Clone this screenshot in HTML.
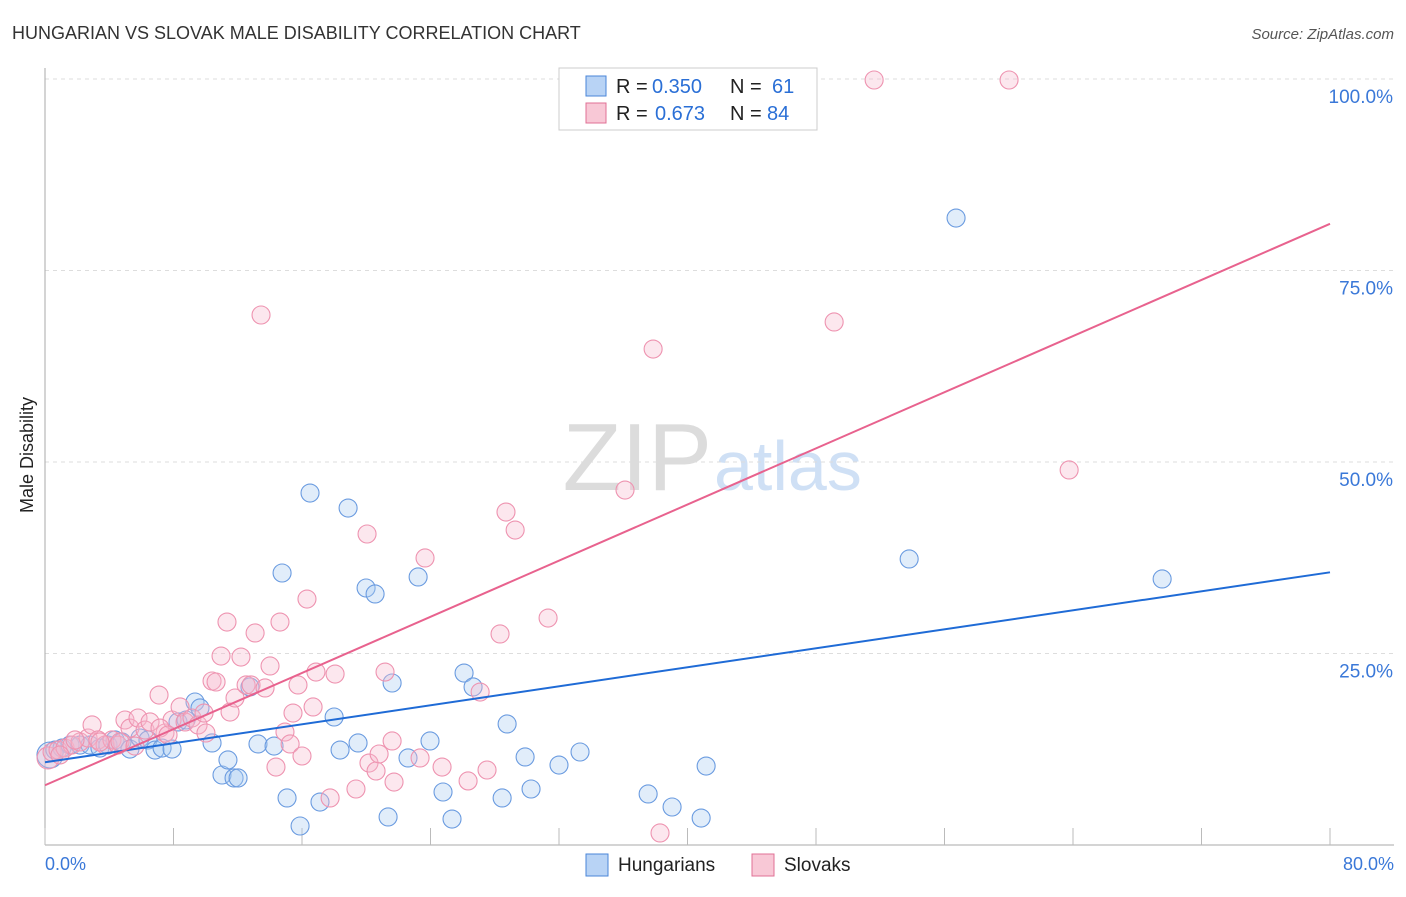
<!DOCTYPE html>
<html><head><meta charset="utf-8"><style>
body{margin:0;background:#fff;font-family:"Liberation Sans",sans-serif}
svg text{font-family:"Liberation Sans",sans-serif}
</style></head><body>
<svg id="c" width="1406" height="892">
<text x="12" y="39" font-size="18" fill="#333">HUNGARIAN VS SLOVAK MALE DISABILITY CORRELATION CHART</text>
<text x="1394" y="39" font-size="15" font-style="italic" fill="#555" text-anchor="end">Source: ZipAtlas.com</text>
<text transform="translate(33,455) rotate(-90)" font-size="18" fill="#222" text-anchor="middle">Male Disability</text>
<text x="712" y="490" font-size="96" fill="#dcdcdc" text-anchor="end" font-family="Liberation Serif">ZIP</text>
<text x="714" y="490" font-size="70" fill="#cfe0f5">atlas</text>
<g id="grid"></g><g id="pts"></g><g id="lines"></g>
<g>
<rect x="559" y="68" width="258" height="62" fill="#fff" stroke="#ccc"/>
<rect x="586" y="76" width="20" height="20" fill="#b8d3f5" stroke="#4a86d8"/>
<text x="616" y="93" font-size="20" fill="#222">R =</text>
<text x="652" y="93" font-size="20" fill="#2a6fd6">0.350</text>
<text x="730" y="93" font-size="20" fill="#222">N =</text>
<text x="772" y="93" font-size="20" fill="#2a6fd6">61</text>
<rect x="586" y="103" width="20" height="20" fill="#f8c8d6" stroke="#e07095"/>
<text x="616" y="120" font-size="20" fill="#222">R =</text>
<text x="655" y="120" font-size="20" fill="#2a6fd6">0.673</text>
<text x="730" y="120" font-size="20" fill="#222">N =</text>
<text x="767" y="120" font-size="20" fill="#2a6fd6">84</text>
</g>
<g>
<rect x="586" y="854" width="22" height="22" fill="#b8d3f5" stroke="#4a86d8"/>
<text x="618" y="871" font-size="19" fill="#222">Hungarians</text>
<rect x="752" y="854" width="22" height="22" fill="#f8c8d6" stroke="#e07095"/>
<text x="784" y="871" font-size="19" fill="#222">Slovaks</text>
</g>
</svg>
<script>
const xTicks=[0,8,16,24,32,40,48,56,64,72,80];
const yTicks=[25,50,75,100];
const bluePx=[[50,755],[55,750],[62,748],[70,745],[80,745],[90,745],[100,748],[108,745],[115,740],[122,742],[130,749],[140,738],[148,740],[155,750],[162,748],[172,749],[178,722],[186,720],[195,702],[200,708],[212,743],[222,775],[228,760],[234,778],[238,778],[250,687],[258,744],[274,746],[282,573],[287,798],[300,826],[310,493],[320,802],[334,717],[340,750],[348,508],[358,743],[366,588],[375,594],[388,817],[392,683],[408,758],[418,577],[430,741],[443,792],[452,819],[464,673],[473,687],[502,798],[507,724],[525,757],[531,789],[559,765],[580,752],[648,794],[672,807],[701,818],[706,766],[909,559],[956,218],[1162,579]];
const pinkPx=[[48,758],[52,752],[58,750],[65,748],[72,745],[80,742],[88,738],[92,725],[98,740],[105,745],[112,740],[118,745],[125,720],[130,728],[138,718],[145,730],[150,722],[159,695],[165,733],[172,720],[180,707],[185,722],[192,718],[198,725],[204,713],[206,733],[212,681],[216,682],[221,656],[227,622],[230,712],[235,698],[241,657],[246,685],[251,685],[255,633],[261,315],[265,688],[270,666],[276,767],[280,622],[285,732],[290,744],[293,713],[298,685],[302,756],[307,599],[313,707],[316,672],[330,798],[335,674],[356,789],[367,534],[369,763],[376,771],[379,754],[385,672],[392,741],[394,782],[420,758],[425,558],[442,767],[468,781],[480,692],[487,770],[500,634],[506,512],[515,530],[548,618],[625,490],[653,349],[660,833],[834,322],[874,80],[1009,80],[1069,470],[60,755],[75,740],[100,742],[120,742],[135,746],[160,728],[168,735]];
const hungarians=bluePx.map(p=>[+((p[0]-45)/16.06).toFixed(2),+((845-p[1])/7.66).toFixed(2)]);
const slovaks=pinkPx.map(p=>[+((p[0]-45)/16.06).toFixed(2),+((845-p[1])/7.66).toFixed(2)]);
const blueTrend=[10.8,35.6];
const pinkTrend=[7.8,81.1];
const X=v=>45+v*(1285/80), Y=v=>845-v*(766/100);
const NS="http://www.w3.org/2000/svg";
function mk(t,a,parent){const e=document.createElementNS(NS,t);for(const k in a)e.setAttribute(k,a[k]);parent.appendChild(e);return e;}
const g=document.getElementById('grid'),pts=document.getElementById('pts'),ln=document.getElementById('lines');
const topLine=mk('line',{x1:45,x2:1394,y1:79,y2:79,stroke:'#ddd','stroke-dasharray':'4,4'},g);


yTicks.forEach(t=>{
 const l=mk('line',{x1:45,x2:1394,y1:Y(t),y2:Y(t),stroke:'#ddd','stroke-dasharray':'4,4'},g);
 
 
 const tx=mk('text',{x:1393,y:Y(t)+24,'font-size':19,fill:'#3a78d8','text-anchor':'end'},g);tx.textContent=t.toFixed(1)+'%';
 
 
});
const ax=mk('line',{x1:45,x2:45,y1:68,y2:845,stroke:'#aaa'},g);


const bx=mk('line',{x1:45,x2:1394,y1:845,y2:845,stroke:'#aaa'},g);


xTicks.forEach(t=>{const l=mk('line',{x1:X(t),x2:X(t),y1:828,y2:845,stroke:'#bbb'},g);
 
 });
[[0,'0.0%','start',45],[80,'80.0%','end',1394]].forEach(a=>{const t=mk('text',{x:a[3],y:870,'font-size':18,fill:'#3a78d8','text-anchor':a[2]},g);t.textContent=a[1];
 
 });
hungarians.forEach((d,i)=>{const c=mk('circle',{cx:X(d[0]),cy:Y(d[1]),r:i==0?13:9,fill:'rgba(170,202,242,0.35)',stroke:'#6a9be0','stroke-width':1.1},pts);
 
 });
slovaks.forEach((d,i)=>{const c=mk('circle',{cx:X(d[0]),cy:Y(d[1]),r:i==0?11:9,fill:'rgba(246,185,205,0.35)',stroke:'#ee93b0','stroke-width':1.1},pts);
 
 });
const bl=mk('line',{x1:X(0),y1:Y(blueTrend[0]),x2:X(80),y2:Y(blueTrend[1]),stroke:'#1f6bd6','stroke-width':2},ln);


const pl=mk('line',{x1:X(0),y1:Y(pinkTrend[0]),x2:X(80),y2:Y(pinkTrend[1]),stroke:'#e8628e','stroke-width':2},ln);


</script>
</body></html>
